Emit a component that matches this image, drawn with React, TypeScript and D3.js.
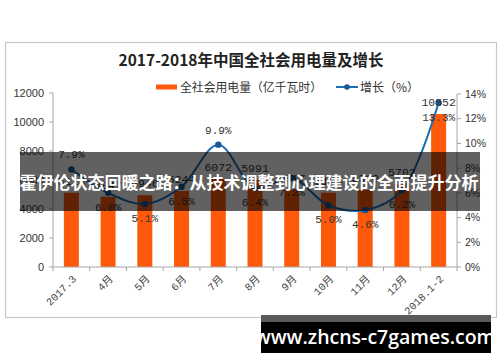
import React from "react";
import * as d3 from "d3";

const categories = ["2017.3", "4月", "5月", "6月", "7月", "8月", "9月", "10月", "11月", "12月", "2018.1-2"];
const consumption = [5123, 4847, 4946, 5244, 6072, 5991, 5317, 5126, 5310, 5702, 10552];
const growth = [7.9, 6.0, 5.1, 6.5, 9.9, 6.4, 7.2, 5.0, 4.6, 6.2, 13.3];
const growthLabelSide = ["above", "below", "below", "below", "above", "below", "below", "below", "below", "below", "below"];
const leftTicks = [0, 2000, 4000, 6000, 8000, 10000, 12000];
const rightTicks = [0, 2, 4, 6, 8, 10, 12, 14];

const title = "2017-2018年中国全社会用电量及增长";
const legendBar = "全社会用电量（亿千瓦时）";
const legendLine = "增长（%）";
const banner = "霍伊伦状态回暖之路：从技术调整到心理建设的全面提升分析";
const watermark = "www.zhcns-c7games.com";

const W = 500, H = 362;
const plot = { left: 53, right: 457, top: 93, bottom: 267 };
const BAR = "#FF5A0C";
const LINE = "#1F6EB5";
const MARK = "#1A5796";
const AXIS = "#A6A6A6";
const mono = "'Liberation Mono', 'Noto Sans CJK SC', monospace";
const sans = "'Liberation Sans', Arial, sans-serif";
const cjk = "'Noto Sans CJK SC', sans-serif";

export default function App() {
  const x = d3.scaleBand<string>().domain(categories).range([plot.left, plot.right]).paddingInner(0).paddingOuter(0);
  const yL = d3.scaleLinear().domain([0, 12000]).range([plot.bottom, plot.top]);
  const yR = d3.scaleLinear().domain([0, 14]).range([plot.bottom, plot.top + 1]);
  const bw = 15;
  const cx = (c: string) => (x(c) as number) + x.bandwidth() / 2;

  const line = d3
    .line<number>()
    .x((_, i) => cx(categories[i]))
    .y((d) => yR(d))
    .curve(d3.curveCatmullRom.alpha(0.5));

  return (
    <svg width={W} height={H} style={{ position: "absolute", left: 0, top: 0, background: "#fff" }}>
      <rect x={0} y={0} width={W} height={H} fill="#fff" />
      <rect x={5.5} y={42.5} width={491} height={275} fill="#fff" stroke="#C8C8C8" strokeWidth={1.2} />

      <text x={251} y={66} textAnchor="middle" fontFamily={cjk} fontWeight={700} fontSize={15.5} fill="#222">
        {title}
      </text>

      {/* legend */}
      <rect x={156} y={84.5} width={21} height={5} fill={BAR} />
      <text x={180} y={91.5} fontFamily={cjk} fontSize={12} fill="#333" textLength={142} lengthAdjust="spacingAndGlyphs">{legendBar}</text>
      <line x1={336} x2={358} y1={87} y2={87} stroke={LINE} strokeWidth={2} />
      <circle cx={347} cy={87} r={2.8} fill={MARK} />
      <text x={360} y={91.5} fontFamily={cjk} fontSize={12} fill="#333">{legendLine}</text>

      {/* bars */}
      {categories.map((c, i) => (
        <rect key={c} x={cx(c) - bw / 2} y={yL(consumption[i])} width={bw} height={yL(0) - yL(consumption[i])} fill={BAR} />
      ))}

      {/* axes */}
      <line x1={plot.left} x2={plot.left} y1={plot.top} y2={plot.bottom} stroke={AXIS} />
      {leftTicks.map((t) => (
        <g key={t}>
          <line x1={plot.left - 4} x2={plot.left} y1={yL(t)} y2={yL(t)} stroke={AXIS} />
          <text x={44} y={yL(t)} dy="0.35em" textAnchor="end" fontFamily={sans} fontSize={11} fill="#333">{t}</text>
        </g>
      ))}
      <line x1={plot.right} x2={plot.right} y1={yR(14)} y2={plot.bottom} stroke={AXIS} />
      {rightTicks.map((t) => (
        <g key={t}>
          <line x1={plot.right} x2={plot.right + 4} y1={yR(t)} y2={yR(t)} stroke={AXIS} />
          <text x={465} y={yR(t)} dy="0.35em" fontFamily={sans} fontSize={10.5} fill="#333">{t}%</text>
        </g>
      ))}
      <line x1={plot.left} x2={plot.right} y1={plot.bottom} y2={plot.bottom} stroke={AXIS} />
      {categories.map((c) => (
        <line key={c} x1={x(c) as number} x2={x(c) as number} y1={plot.bottom} y2={plot.bottom + 4} stroke={AXIS} />
      ))}
      <line x1={plot.right} x2={plot.right} y1={plot.bottom} y2={plot.bottom + 4} stroke={AXIS} />
      {categories.map((c) => (
        <text
          key={c}
          transform={`translate(${cx(c) + 3},${plot.bottom + 10}) rotate(-45)`}
          textAnchor="end"
          dy="0.35em"
          fontFamily={mono}
          fontSize={10.5}
          fill="#444"
        >
          {c}
        </text>
      ))}

      {/* line */}
      <path d={line(growth) as string} fill="none" stroke={LINE} strokeWidth={2} />
      {growth.map((g, i) => (
        <circle key={i} cx={cx(categories[i])} cy={yR(g)} r={3.2} fill={MARK} />
      ))}

      {/* bar labels */}
      {categories.map((c, i) => (
        <text key={c} x={cx(c)} y={yL(consumption[i]) - 8} textAnchor="middle" fontFamily={mono} fontSize={11.5} fill="#333">
          {consumption[i]}
        </text>
      ))}
      {/* growth labels */}
      {growth.map((g, i) => (
        <text
          key={i}
          x={cx(categories[i])}
          y={yR(g) + (growthLabelSide[i] === "above" ? -11 : 18)}
          textAnchor="middle"
          fontFamily={mono}
          fontSize={11}
          fill="#333"
        >
          {g.toFixed(1)}%
        </text>
      ))}

      {/* banner overlay */}
      <rect x={20} y={152} width={460} height={59} fill="rgba(0,0,0,0.62)" />
      <text x={249} y={183} dy="0.36em" textAnchor="middle" fontFamily={cjk} fontWeight={700} fontSize={17} fill="#fff">
        {banner}
      </text>

      {/* watermark box */}
      <rect x={261} y={315} width={230} height={8} fill="#5a5a5a" />
      <rect x={261} y={322} width={230} height={31} fill="#000" />
      <text x={375} y={337} dy="0.36em" textAnchor="middle" fontFamily="'Open Sans', sans-serif" fontWeight={600} fontSize={19.5} fill="#fff">
        {watermark}
      </text>
    </svg>
  );
}
